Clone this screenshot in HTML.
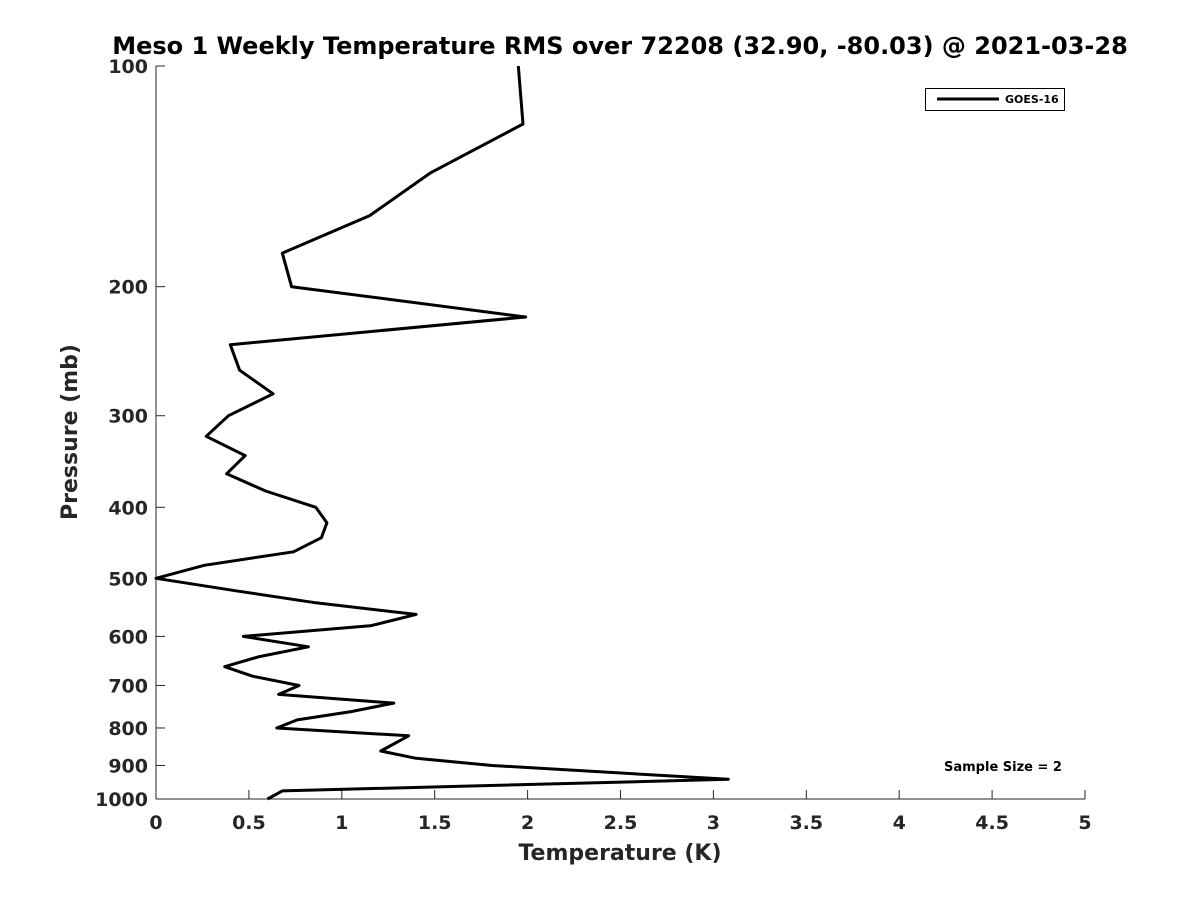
<!DOCTYPE html>
<html><head><meta charset="utf-8"><style>
body{margin:0;background:#fff;}
svg text{font-family:"DejaVu Sans","Liberation Sans",sans-serif;font-weight:bold;fill:#262626;}
</style></head><body>
<svg id="chart" width="1200" height="900" xmlns="http://www.w3.org/2000/svg">
<rect width="1200" height="900" fill="#fff"/>
<text x="620" y="54" text-anchor="middle" font-size="24" style="fill:#000">Meso 1 Weekly Temperature RMS over 72208 (32.90, -80.03) @ 2021-03-28</text>
<g id="axes"></g>
<path id="series" fill="none" stroke="#000" stroke-width="3" stroke-linejoin="round"/>
<g>
<rect x="925.5" y="88.5" width="139" height="22" fill="#fff" stroke="#000" stroke-width="1"/>
<line x1="937" y1="99" x2="999" y2="99" stroke="#000" stroke-width="3"/>
<text x="1005" y="103" font-size="11" style="fill:#000">GOES-16</text>
</g>
<text x="1003" y="771" text-anchor="middle" font-size="13" style="fill:#000">Sample Size = 2</text>
<text x="620" y="860" text-anchor="middle" font-size="22">Temperature (K)</text>
<text transform="translate(77,432) rotate(-90)" text-anchor="middle" font-size="22">Pressure (mb)</text>
</svg>
<script>
const pressures=[100,120,140,160,180,200,220,240,260,280,300,320,340,360,380,400,420,440,460,480,500,520,540,560,580,600,620,640,660,680,700,720,740,760,780,800,820,860,880,900,940,975,1000];
const temps=[1.95,1.975,1.475,1.15,0.68,0.73,1.99,0.40,0.45,0.63,0.39,0.27,0.48,0.38,0.59,0.86,0.92,0.89,0.74,0.26,0.0,0.43,0.86,1.40,1.16,0.47,0.82,0.55,0.37,0.52,0.77,0.66,1.28,1.05,0.76,0.65,1.36,1.21,1.40,1.81,3.08,0.68,0.60];
const xTicks=[0,0.5,1,1.5,2,2.5,3,3.5,4,4.5,5];
const yTicks=[100,200,300,400,500,600,700,800,900,1000];
const X0=156,X1=1085,Y0=66,Y1=799;
const xs=v=>X0+(v-0)/(5-0)*(X1-X0);
const ys=p=>Y0+Math.log10(p/100)*(Y1-Y0);
const NS="http://www.w3.org/2000/svg";
const ax=document.getElementById('axes');
function mk(t,a){const e=document.createElementNS(NS,t);for(const k in a)e.setAttribute(k,a[k]);ax.appendChild(e);return e;}
let l=mk('line',{x1:X0,y1:Y0,x2:X0,y2:Y1,stroke:'#262626','stroke-width':1});


l=mk('line',{x1:X0,y1:Y1,x2:X1,y2:Y1,stroke:'#262626','stroke-width':1});


xTicks.forEach(v=>{const x=xs(v);
 const t=mk('line',{x1:x,y1:Y1,x2:x,y2:Y1-9,stroke:'#262626'});
 
 
 const tx=mk('text',{x:x,y:Y1+30,'text-anchor':'middle','font-size':19});tx.textContent=v;
 
 
});
yTicks.forEach(p=>{const y=ys(p);
 const t=mk('line',{x1:X0,y1:y,x2:X0+9,y2:y,stroke:'#262626'});
 
 
 const tx=mk('text',{x:X0-8,y:y+7,'text-anchor':'end','font-size':19});tx.textContent=p;
 
 
});
document.getElementById('series').setAttribute('d',pressures.map((p,i)=>(i?'L':'M')+xs(temps[i]).toFixed(1)+','+ys(p).toFixed(1)).join(' '));
</script>
</body></html>
